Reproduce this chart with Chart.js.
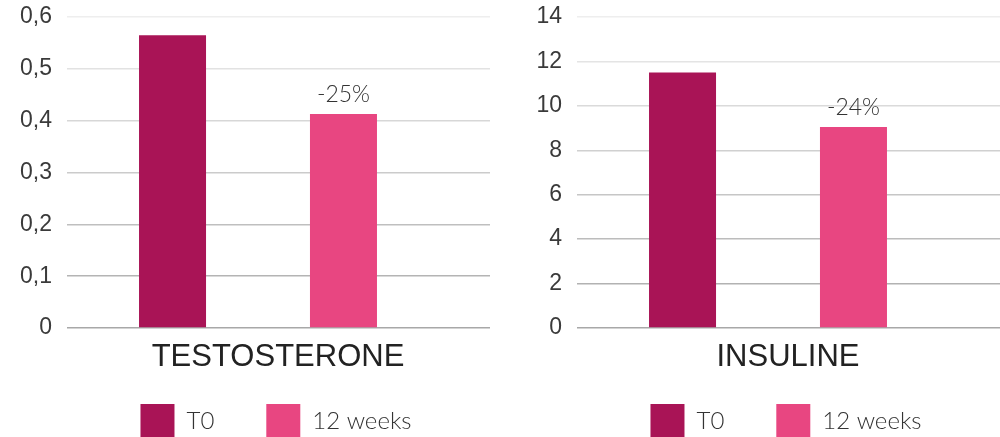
<!DOCTYPE html>
<html>
<head>
<meta charset="utf-8">
<script src="https://cdn.jsdelivr.net/npm/chart.js@4/dist/chart.umd.min.js"></script>
<style>
  html, body { margin: 0; padding: 0; background: #fff; overflow: hidden; }
  .box { position: absolute; top: 0; width: 537px; height: 448px; }
  #left { left: 0; }
  #right { left: 510px; }
</style>
</head>
<body>
<div class="box" id="left"><canvas id="testoChart"></canvas></div>
<div class="box" id="right"><canvas id="insuChart"></canvas></div>
<script>
const serie = ['T0', '12 weeks'];
const colori = ['#a91456', '#e84681'];

const testoCategoria = ['TESTOSTERONE'];
const testoT0 = [0.565];
const testo12w = [0.413];
const testoVariazione = '-25%';
const testoMax = 0.6;
const testoStep = 0.1;

const insuCategoria = ['INSULINE'];
const insuT0 = [11.5];
const insu12w = [9.05];
const insuVariazione = '-24%';
const insuMax = 14;
const insuStep = 2;

// le linee della griglia schiariscono salendo
function coloreGriglia(c) {
    const n = c.scale.ticks.length - 1;
    const g = Math.round(168 + (c.index / n) * 70);
    return `rgb(${g},${g},${g})`;
}

const etichettaVariazione = {
    id: 'variazione',
    afterDatasetsDraw(chart, args, opts) {
        const bar = chart.getDatasetMeta(1).data[0];
        const ctx = chart.ctx;
        ctx.save();
        ctx.font = '300 23px Lato';
        ctx.fillStyle = '#333';
        ctx.textAlign = 'center';
        ctx.textBaseline = 'alphabetic';
        ctx.fillText(opts.testo, bar.x, bar.y - 12);
        ctx.restore();
    }
};

function creaGrafico(id, categorie, t0, w12, max, step, variazione) {
    const fontLegenda = { family: 'Lato', weight: 300, size: 24 };
    return new Chart(document.getElementById(id), {
        type: 'bar',
        data: {
            labels: categorie,
            datasets: [
                { label: serie[0], data: t0, backgroundColor: colori[0], categoryPercentage: 0.895, barPercentage: 0.392 },
                { label: serie[1], data: w12, backgroundColor: colori[1], categoryPercentage: 0.895, barPercentage: 0.392 }
            ]
        },
        options: {
            responsive: true,
            maintainAspectRatio: false,
            animation: false,
            locale: 'fr-FR',
            layout: { padding: { left: 15, right: 0, top: 17, bottom: 0 } },
            plugins: {
                legend: {
                    position: 'bottom',
                    labels: { boxWidth: 34, boxHeight: 34, padding: 52, color: '#333', font: fontLegenda }
                },
                tooltip: { enabled: false },
                variazione: { testo: variazione }
            },
            scales: {
                x: {
                    grid: { display: false },
                    border: { display: false },
                    ticks: { mirror: true, color: '#222', padding: -48, labelOffset: 20, font: { family: 'Liberation Sans', size: 31 } },
                    afterFit: s => { s.height = 24; }
                },
                y: {
                    min: 0,
                    max: max,
                    border: { display: false },
                    grid: { color: coloreGriglia, lineWidth: 1.5, drawTicks: false },
                    ticks: { stepSize: step, padding: 15, color: '#3a3a3a', font: { family: 'Liberation Sans', size: 23 } },
                    afterFit: s => { s.width = 52; s.paddingTop = 0; s.paddingBottom = 0; }
                },
                y2: {
                    position: 'right',
                    min: 0,
                    max: max,
                    border: { display: false },
                    grid: { drawOnChartArea: false, tickLength: 41, color: coloreGriglia, lineWidth: 1.5 },
                    ticks: { display: false, stepSize: step },
                    afterFit: s => { s.width = 88; }
                }
            }
        },
        plugins: [etichettaVariazione]
    });
}

creaGrafico('testoChart', testoCategoria, testoT0, testo12w, testoMax, testoStep, testoVariazione);
creaGrafico('insuChart', insuCategoria, insuT0, insu12w, insuMax, insuStep, insuVariazione);
</script>
</body>
</html>
